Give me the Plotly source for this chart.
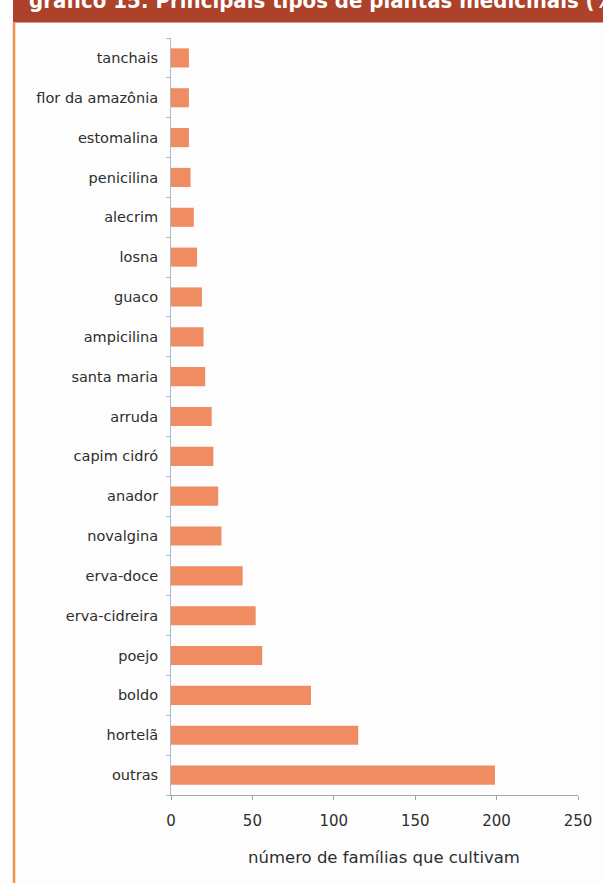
import plotly.graph_objects as go

# Medicinal plants grown, by number of families
plantas = [
    "tanchais", "flor da amazônia", "estomalina", "penicilina", "alecrim",
    "losna", "guaco", "ampicilina", "santa maria", "arruda", "capim cidró",
    "anador", "novalgina", "erva-doce", "erva-cidreira", "poejo", "boldo",
    "hortelã", "outras",
]
familias = [11, 11, 11, 12, 14, 16, 19, 20, 21, 25, 26, 29, 31, 44, 52, 56, 86, 115, 199]
x_ticks = [0, 50, 100, 150, 200, 250]

W, H = 603, 883
ML, MR, MT, MB = 171, 25, 38, 88
PW, PH = W - ML - MR, H - MT - MB
LABEL_FONT = "DejaVu Sans, Verdana, sans-serif"
TEXT_COLOR = "#2e2e2e"


def px_x(p):
    return (p - ML) / PW


def px_y(p):
    return 1 - (p - MT) / PH


fig = go.Figure(
    go.Bar(
        x=familias,
        y=plantas,
        orientation="h",
        marker=dict(color="#ef8c62", line=dict(width=0)),
        width=0.48,
        hoverinfo="x+y",
    )
)

fig.update_layout(
    width=W,
    height=H,
    margin=dict(l=ML, r=MR, t=MT, b=MB),
    paper_bgcolor="#fdfdfd",
    plot_bgcolor="#fdfdfd",
    showlegend=False,
    font=dict(family=LABEL_FONT, color=TEXT_COLOR),
    shapes=[
        # title banner
        dict(type="rect", xref="paper", yref="paper",
             x0=px_x(13), x1=px_x(W + 2), y0=px_y(22.5), y1=px_y(-2),
             fillcolor="#ad4129", line=dict(width=0), layer="above"),
        # orange side rule
        dict(type="line", xref="paper", yref="paper",
             x0=px_x(14), x1=px_x(14), y0=px_y(22.5), y1=px_y(H + 2),
             line=dict(color="#f0904a", width=2.5)),
    ],
    annotations=[
        dict(text="<b>gráfico 15: Principais tipos de plantas medicinais (%)</b>",
             xref="paper", yref="paper", x=px_x(27), y=px_y(0),
             xanchor="left", yanchor="middle", showarrow=False,
             font=dict(family="DejaVu Sans Condensed, Open Sans, sans-serif",
                       size=22, color="#ffffff")),
        dict(text="número de famílias que cultivam",
             xref="paper", yref="paper", x=px_x(384), y=px_y(858),
             xanchor="center", yanchor="middle", showarrow=False,
             font=dict(family=LABEL_FONT, size=16.5, color=TEXT_COLOR)),
    ],
)

fig.update_xaxes(
    range=[0, 250],
    tickvals=x_ticks,
    ticktext=[str(v) for v in x_ticks],
    showgrid=False,
    zeroline=False,
    showline=True,
    linecolor="#a0a4a8",
    linewidth=1,
    ticks="outside",
    ticklen=4,
    tickcolor="#a0a4a8",
    tickfont=dict(size=15, color=TEXT_COLOR),
    ticklabelstandoff=8,
    fixedrange=True,
)

fig.update_yaxes(
    categoryorder="array",
    categoryarray=plantas[::-1],
    range=[-0.5, len(plantas) - 0.5],
    autorange=False,
    showgrid=False,
    zeroline=False,
    showline=True,
    linecolor="#a9bccb",
    linewidth=1,
    ticks="outside",
    tickson="boundaries",
    ticklen=4,
    tickcolor="#a9bccb",
    tickfont=dict(size=14.5, color=TEXT_COLOR),
    ticklabelstandoff=9,
    fixedrange=True,
)

fig.write_html("out.html")
